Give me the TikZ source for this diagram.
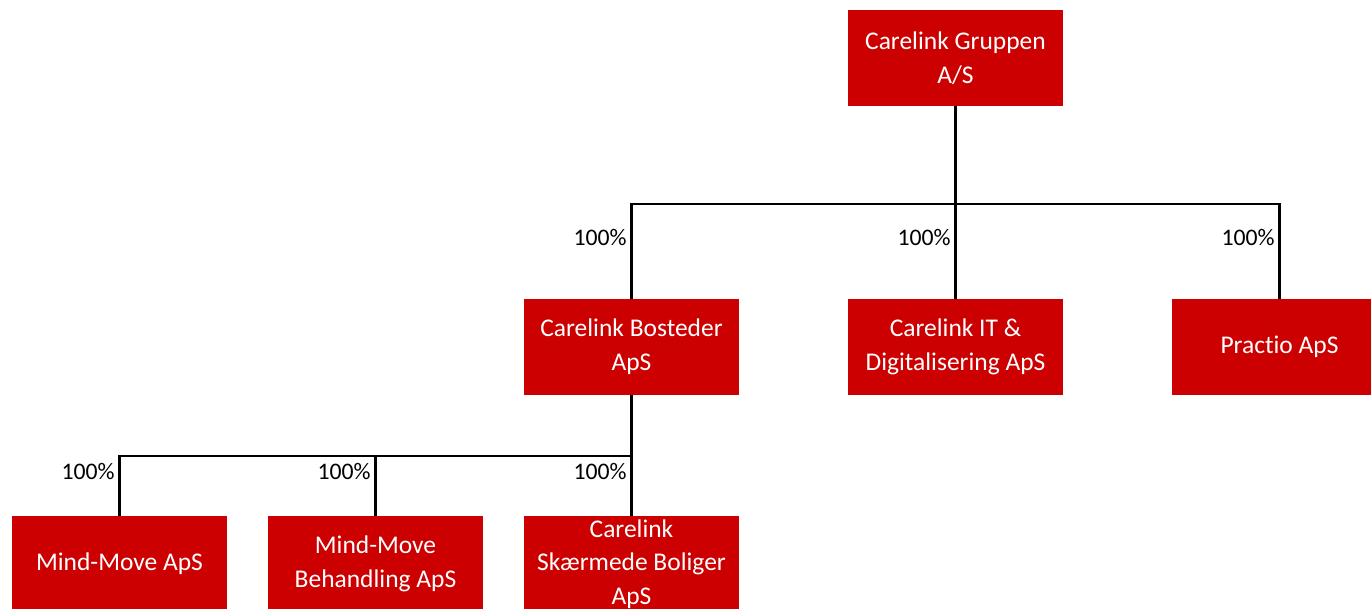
\documentclass[tikz,border=0pt]{standalone}
\usepackage{fontspec}
\setmainfont{Carlito}[Ligatures=CommonOff]
\definecolor{carered}{HTML}{CC0000}
\begin{document}
\begin{tikzpicture}[x=0.02cm, y=-0.02cm]
		\tikzset{co/.style={rectangle, fill=carered, text=white, minimum width=4.3cm, minimum height=1.92cm, inner sep=0pt, align=center, font=\fontsize{14.5}{19.2}\selectfont}};
		\tikzset{pct/.style={anchor=east, inner sep=0pt, font=\fontsize{13.5}{16}\selectfont}};
		\tikzset{ln/.style={line width=1.3pt}};

		\useasboundingbox (0, 0) rectangle (1371, 608);
		\clip (0, 0) rectangle (1371, 608);

		\node[co] (grp) at (955.5, 58) {Carelink Gruppen\\A/S};
		\node[co] (bost) at (631.5, 347) {Carelink Bosteder\\ApS};
		\node[co] (it) at (955.5, 347) {Carelink IT \&\\Digitalisering ApS};
		\node[co] (prac) at (1279.5, 347) {Practio ApS};
		\node[co] (mind) at (119.5, 564) {Mind-Move ApS};
		\node[co] (beh) at (375.5, 564) {Mind-Move\\Behandling ApS};
		\node[co] (skm) at (631.5, 564) {Carelink\\Skærmede Boliger\\ApS};

		\coordinate (bus1) at (955.5, 204);
		\coordinate (bus2) at (631.5, 456);

		\draw[ln] (grp) to (bus1);
		\draw[ln] (bus1) -| (bost);
		\draw[ln] (bus1) to (it);
		\draw[ln] (bus1) -| (prac);

		\draw[ln] (bost) to (bus2);
		\draw[ln] (bus2) -| (mind);
		\draw[ln] (bus2) -| (beh);
		\draw[ln] (bus2) to (skm);

		\node[pct] (p1) at (627, 238) {100\%};
		\node[pct] (p2) at (951, 238) {100\%};
		\node[pct] (p3) at (1275, 238) {100\%};
		\node[pct] (p4) at (115, 472) {100\%};
		\node[pct] (p5) at (371, 472) {100\%};
		\node[pct] (p6) at (627, 472) {100\%};
	\end{tikzpicture}
\end{document}
